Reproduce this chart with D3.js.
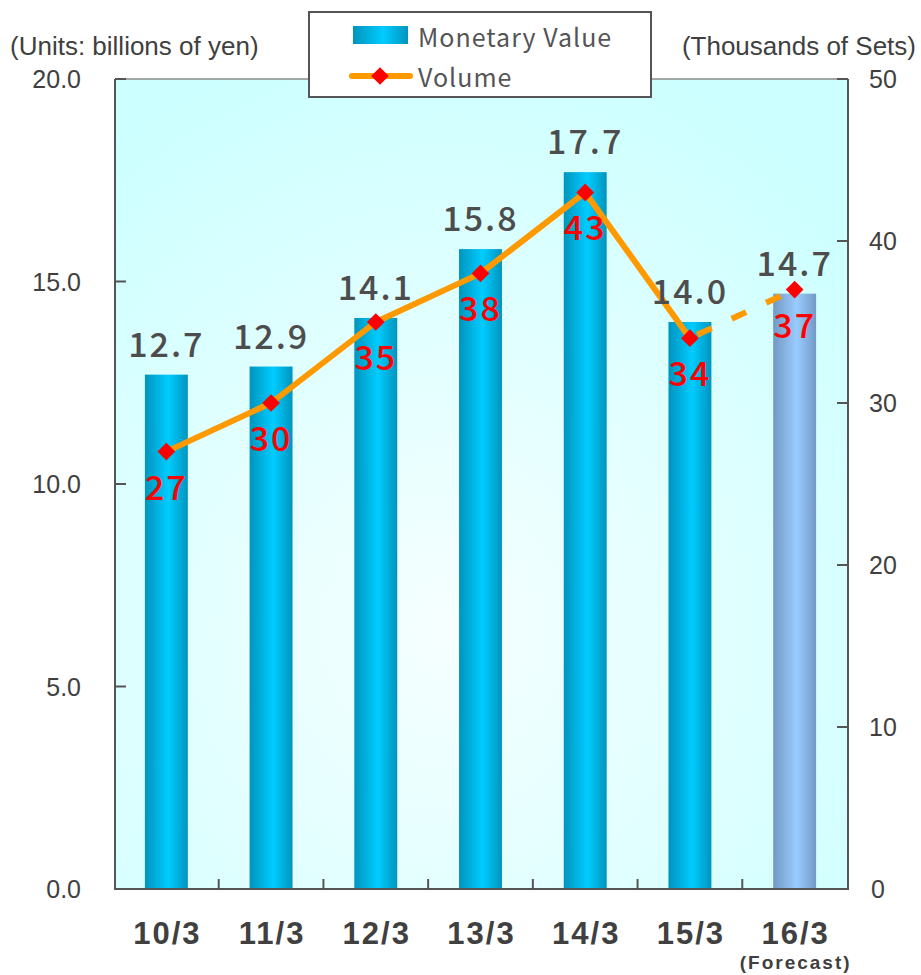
<!DOCTYPE html>
<html>
<head>
<meta charset="utf-8">
<script src="https://cdn.jsdelivr.net/npm/d3@7"></script>
<style>
  html, body { margin: 0; padding: 0; background: #ffffff; }
  svg { display: block; }
</style>
</head>
<body>
<svg id="chart" width="921" height="975"></svg>
<script>
// Fiscal years (March year-end) and the two series
const categories = ["10/3", "11/3", "12/3", "13/3", "14/3", "15/3", "16/3"];
const monetaryValue = [12.7, 12.9, 14.1, 15.8, 17.7, 14.0, 14.7];   // billions of yen
const volume = [27, 30, 35, 38, 43, 34, 37];                          // thousands of sets
const forecastIndex = 6;
const leftTicks = [0, 5, 10, 15, 20];
const rightTicks = [0, 10, 20, 30, 40, 50];

const svg = d3.select("#chart");
const plot = { left: 115, right: 848, top: 79, bottom: 889 };

const x = d3.scaleBand().domain(categories).range([114, 847]).paddingInner(0.59).paddingOuter(0.295);
const step = x.step();
const cx = c => x(c) + x.bandwidth() / 2;
const yL = d3.scaleLinear().domain([0, 20]).range([plot.bottom, plot.top]);
const yR = d3.scaleLinear().domain([0, 50]).range([plot.bottom, plot.top]);

const defs = svg.append("defs");
const bg = defs.append("radialGradient").attr("id", "bgGrad")
  .attr("cx", "45%").attr("cy", "68%").attr("r", "75%");
bg.append("stop").attr("offset", "0%").attr("stop-color", "#f6ffff");
bg.append("stop").attr("offset", "100%").attr("stop-color", "#ccffff");

function barGradient(id, edge, mid) {
  const g = defs.append("linearGradient").attr("id", id)
    .attr("x1", "0%").attr("x2", "100%").attr("y1", "0%").attr("y2", "0%");
  g.append("stop").attr("offset", "0%").attr("stop-color", edge);
  g.append("stop").attr("offset", "55%").attr("stop-color", mid);
  g.append("stop").attr("offset", "100%").attr("stop-color", edge);
}
barGradient("barGrad", "#0094bd", "#00ccff");
barGradient("foreGrad", "#7399c4", "#99ccff");

// plot background
svg.append("rect")
  .attr("x", plot.left).attr("y", plot.top)
  .attr("width", plot.right - plot.left).attr("height", plot.bottom - plot.top)
  .attr("fill", "url(#bgGrad)");
svg.append("line")
  .attr("x1", plot.left).attr("x2", plot.right).attr("y1", plot.top).attr("y2", plot.top)
  .attr("stroke", "#8a8a8a").attr("stroke-width", 1.5);

// bars
svg.append("g").selectAll("rect").data(categories).join("rect")
  .attr("x", d => x(d))
  .attr("width", x.bandwidth())
  .attr("y", (d, i) => yL(monetaryValue[i]))
  .attr("height", (d, i) => yL(0) - yL(monetaryValue[i]))
  .attr("fill", (d, i) => i === forecastIndex ? "url(#foreGrad)" : "url(#barGrad)");

// axes
const axisColor = "#555555";
const axes = svg.append("g").attr("stroke", axisColor).attr("stroke-width", 2);
axes.append("line").attr("x1", plot.left).attr("x2", plot.left).attr("y1", plot.top).attr("y2", plot.bottom + 1);
axes.append("line").attr("x1", plot.right).attr("x2", plot.right).attr("y1", plot.top).attr("y2", plot.bottom + 1);
axes.append("line").attr("x1", plot.left).attr("x2", plot.right).attr("y1", plot.bottom).attr("y2", plot.bottom);

axes.selectAll(".lt").data(leftTicks).join("line")
  .attr("x1", plot.left).attr("x2", plot.left + 11)
  .attr("y1", d => yL(d)).attr("y2", d => yL(d));
axes.selectAll(".rt").data(rightTicks).join("line")
  .attr("x1", plot.right - 11).attr("x2", plot.right)
  .attr("y1", d => yR(d)).attr("y2", d => yR(d));
axes.selectAll(".xt").data(categories.slice(1)).join("line")
  .attr("x1", d => x(d) - step * 0.295).attr("x2", d => x(d) - step * 0.295)
  .attr("y1", plot.bottom).attr("y2", plot.bottom - 10);

const tickFont = "'Liberation Sans', Arial, sans-serif";
svg.append("g").selectAll("text").data(leftTicks).join("text")
  .attr("x", 81).attr("y", d => yL(d) + 9)
  .attr("text-anchor", "end")
  .attr("font-family", tickFont).attr("font-size", 25).attr("fill", "#404040")
  .text(d => d.toFixed(1));
svg.append("g").selectAll("text").data(rightTicks).join("text")
  .attr("x", d => d === 0 ? 871 : 869).attr("y", d => yR(d) + 9)
  .attr("text-anchor", "start")
  .attr("font-family", tickFont).attr("font-size", 25).attr("fill", "#404040")
  .text(d => d);

// axis unit captions
svg.append("text").attr("x", 10).attr("y", 55)
  .attr("font-family", tickFont).attr("font-size", 26).attr("fill", "#404040")
  .text("(Units: billions of yen)");
svg.append("text").attr("x", 916).attr("y", 55).attr("text-anchor", "end")
  .attr("font-family", tickFont).attr("font-size", 26).attr("fill", "#404040")
  .text("(Thousands of Sets)");

// category labels
const jpFont = "'Noto Sans CJK JP', 'Noto Sans', sans-serif";
svg.append("g").selectAll("text").data(categories).join("text")
  .attr("x", d => cx(d) + 1).attr("y", 944)
  .attr("text-anchor", "middle")
  .attr("font-family", tickFont).attr("font-weight", "bold").attr("font-size", 31)
  .attr("letter-spacing", 2)
  .attr("fill", "#404040")
  .text(d => d);
svg.append("text")
  .attr("x", cx(categories[forecastIndex]) + 1).attr("y", 969)
  .attr("text-anchor", "middle")
  .attr("font-family", tickFont).attr("font-weight", "bold").attr("font-size", 19)
  .attr("letter-spacing", 2)
  .attr("fill", "#404040")
  .text("(Forecast)");

// volume line: solid for actuals, dashed toward the forecast
const line = d3.line().x(d => cx(d.c)).y(d => yR(d.v));
const pts = categories.map((c, i) => ({ c, v: volume[i] }));
svg.append("path")
  .attr("d", line(pts.slice(0, forecastIndex)))
  .attr("fill", "none").attr("stroke", "#ff9900").attr("stroke-width", 6)
  .attr("stroke-linejoin", "round");
svg.append("path")
  .attr("d", line(pts.slice(forecastIndex - 1)))
  .attr("fill", "none").attr("stroke", "#ff9900").attr("stroke-width", 6)
  .attr("stroke-dasharray", "16,22").attr("stroke-dashoffset", -8);

const diamond = d3.symbol().type(d3.symbolDiamond2).size(200);
svg.append("g").selectAll("path").data(pts).join("path")
  .attr("transform", d => `translate(${cx(d.c)},${yR(d.v)})`)
  .attr("d", diamond)
  .attr("fill", "#ff0000");

// value labels
svg.append("g").selectAll("text").data(categories).join("text")
  .attr("x", d => cx(d)).attr("y", (d, i) => yL(monetaryValue[i]) - 18)
  .attr("text-anchor", "middle")
  .attr("font-family", jpFont).attr("font-weight", 500).attr("font-size", 34)
  .attr("letter-spacing", 2)
  .attr("fill", "#4d4d4d")
  .text((d, i) => monetaryValue[i].toFixed(1));
svg.append("g").selectAll("text").data(pts).join("text")
  .attr("x", d => cx(d.c)).attr("y", d => yR(d.v) + 48)
  .attr("text-anchor", "middle")
  .attr("font-family", jpFont).attr("font-weight", 500).attr("font-size", 34)
  .attr("letter-spacing", 2)
  .attr("fill", "#ff0000")
  .text(d => d.v);

// legend
const lg = svg.append("g");
lg.append("rect").attr("x", 309).attr("y", 12).attr("width", 342).attr("height", 85)
  .attr("fill", "#ffffff").attr("stroke", "#555555").attr("stroke-width", 2);
lg.append("rect").attr("x", 353).attr("y", 26).attr("width", 55).attr("height", 18)
  .attr("fill", "url(#barGrad)");
lg.append("line").attr("x1", 352).attr("x2", 410).attr("y1", 76).attr("y2", 76)
  .attr("stroke", "#ff9900").attr("stroke-width", 6).attr("stroke-linecap", "round");
lg.append("path").attr("transform", "translate(380,76)").attr("d", diamond).attr("fill", "#ff0000");
lg.append("text").attr("x", 418).attr("y", 47)
  .attr("font-family", jpFont).attr("font-size", 25).attr("letter-spacing", 1).attr("fill", "#555555")
  .text("Monetary Value");
lg.append("text").attr("x", 418).attr("y", 87)
  .attr("font-family", jpFont).attr("font-size", 25).attr("letter-spacing", 1).attr("fill", "#555555")
  .text("Volume");
</script>
</body>
</html>
